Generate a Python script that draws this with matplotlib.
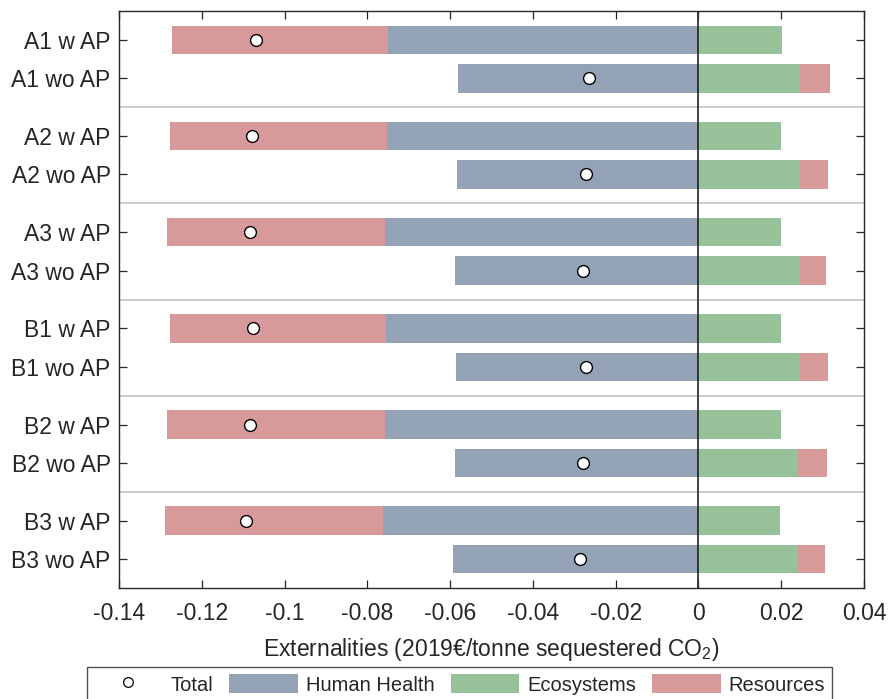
import matplotlib
matplotlib.use("Agg")
import matplotlib.pyplot as plt
from matplotlib.patches import Patch
from matplotlib.lines import Line2D
import numpy as np

plt.rcParams['font.family'] = ['Liberation Sans', 'DejaVu Sans']
plt.rcParams['mathtext.fontset'] = 'custom'
plt.rcParams['mathtext.rm'] = 'Liberation Sans'
plt.rcParams['mathtext.default'] = 'regular'

# externalities per scenario (2019 EUR / tonne sequestered CO2)
scenarios = ["A1 w AP", "A1 wo AP", "A2 w AP", "A2 wo AP", "A3 w AP", "A3 wo AP",
             "B1 w AP", "B1 wo AP", "B2 w AP", "B2 wo AP", "B3 w AP", "B3 wo AP"]
human_health = [-0.0751, -0.0580, -0.0753, -0.0583, -0.0758, -0.0588,
                -0.0756, -0.0586, -0.0758, -0.0589, -0.0762, -0.0592]
ecosystems = [0.0202, 0.0245, 0.0200, 0.0242, 0.0200, 0.0243,
              0.0200, 0.0243, 0.0199, 0.0241, 0.0198, 0.0241]
resources = [-0.0520, 0.0072, -0.0524, 0.0070, -0.0525, 0.0065,
             -0.0521, 0.0071, -0.0525, 0.0069, -0.0528, 0.0065]
total = [-0.1069, -0.0264, -0.1078, -0.0272, -0.1084, -0.0280,
         -0.1076, -0.0271, -0.1084, -0.0280, -0.1092, -0.0286]

xticks = [-0.14, -0.12, -0.1, -0.08, -0.06, -0.04, -0.02, 0, 0.02, 0.04]
xticklabels = ["-0.14", "-0.12", "-0.1", "-0.08", "-0.06", "-0.04", "-0.02", "0", "0.02", "0.04"]

c_hh = "#94a2b6"
c_eco = "#97c299"
c_res = "#d8999b"
txt = "#262626"

# two bars per group, groups separated by a gap
ypos = []
for i in range(len(scenarios) // 2):
    ypos += [i * 2.5 + 0.75, i * 2.5 + 1.75]
ypos = np.array(ypos)
bh = 0.74

fig = plt.figure(figsize=(8.88, 6.99), dpi=100)
ax = fig.add_axes([119 / 888, 1 - 588 / 699, 745 / 888, 577 / 699])

# stack positives and negatives separately
pos = np.zeros(len(scenarios))
neg = np.zeros(len(scenarios))
for vals, col in [(human_health, c_hh), (ecosystems, c_eco), (resources, c_res)]:
    vals = np.array(vals)
    left = np.where(vals >= 0, pos, neg)
    ax.barh(ypos, vals, left=left, height=bh, color=col, edgecolor="none", zorder=2)
    pos = pos + np.where(vals >= 0, vals, 0)
    neg = neg + np.where(vals < 0, vals, 0)

ax.plot(total, ypos, "o", ms=8.5, mfc="white", mec="black", mew=1.0, zorder=4)

for k in range(1, len(scenarios) // 2):
    ax.axhline(k * 2.5, color="#c4c4c4", lw=1.2, zorder=1)
ax.axvline(0, color="#222222", lw=1.2, zorder=3)

ax.set_xlim(-0.14, 0.04)
ax.set_ylim(15, 0)
ax.set_xticks(xticks)
ax.set_xticklabels(xticklabels)
ax.set_yticks(ypos)
ax.set_yticklabels(scenarios)
ax.tick_params(direction="in", length=6, width=0.9, colors=txt, labelsize=16.5,
               top=True, right=True)
ax.tick_params(axis="x", pad=10)
ax.tick_params(axis="y", pad=6)
for s in ax.spines.values():
    s.set_color(txt)
    s.set_linewidth(1.0)
ax.set_xlabel(r"Externalities (2019€/tonne sequestered CO$_2$)", fontsize=16.5, color=txt, labelpad=8)

handles = [
    Line2D([], [], ls="none", marker="o", ms=7, mfc="white", mec="black", mew=0.9),
    Patch(facecolor=c_hh, edgecolor="none"),
    Patch(facecolor=c_eco, edgecolor="none"),
    Patch(facecolor=c_res, edgecolor="none"),
]
leg = fig.legend(handles, ["Total", "Human Health", "Ecosystems", "Resources"],
                 loc="upper left", bbox_to_anchor=(87 / 888, 1 - 667 / 699),
                 ncol=4, fontsize=14.5, frameon=True, fancybox=False,
                 handlelength=3.4, handleheight=1.1, handletextpad=0.4,
                 columnspacing=0.8, borderpad=0.35, borderaxespad=0)
leg.get_frame().set_edgecolor(txt)
leg.get_frame().set_linewidth(1.0)
for t in leg.get_texts():
    t.set_color(txt)

fig.savefig("out.png", dpi=100)
